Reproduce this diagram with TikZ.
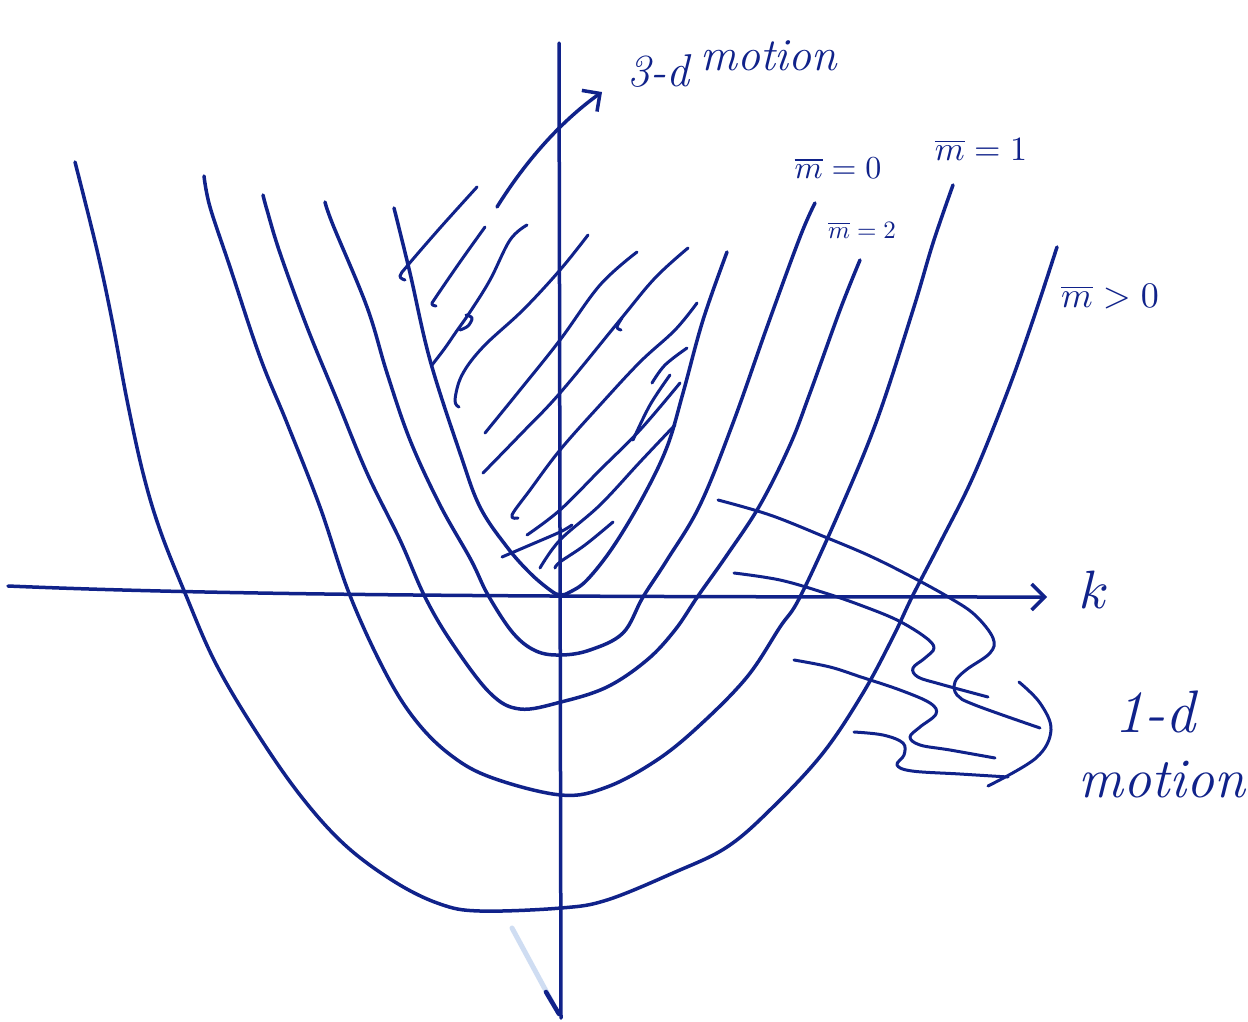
\documentclass[tikz,border=0pt]{standalone}
\usetikzlibrary{arrows.meta}
\definecolor{ink}{RGB}{16,34,138}
\definecolor{smear}{RGB}{120,160,220}
\tikzset{
  pen/.style={draw=ink, line width=3.5pt, line cap=round, line join=round},
  hatch/.style={pen, line width=3pt},
  wave/.style={pen, line width=3pt},
  barb/.style={-{Straight Barb[length=13pt,width=26pt,line width=3.5pt]}},
  lbl/.style={text=ink, inner sep=0pt},
}
\newcommand{\fsz}[1]{\fontsize{#1}{#1}\selectfont}
\begin{document}
\begin{tikzpicture}[x=1pt,y=-1pt]
\useasboundingbox (0,0) rectangle (1248,1021);
\fill[white] (0,0) rectangle (1248,1021);

% ---- axes
\coordinate (yTop) at (559,43);
\coordinate (yBot) at (561,1018);
\draw[pen] (yTop) -- (yBot);
\coordinate (xL) at (8,586);
\coordinate (xR) at (1047,597);
\draw[pen,barb] (xL) .. controls (220,595) and (500,597) .. (xR);
\node[lbl] (k) at (1094,590) {\scalebox{5.4}{$k$}};

% faint smear at the bottom of the vertical axis
\draw[smear, opacity=.35, line width=5pt, line cap=round] (512,928) -- (552,1002);
\draw[pen, line width=4.5pt] (546,992) -- (559,1014);

% ---- curves
\draw[pen] plot[smooth, tension=0.6] coordinates {(394,208) (410,273) (430,360) (460,453) (480,507) (507,547) (530,573) (550,590) (560,595) (570,592) (587,580) (613,547) (643,497) (667,447) (683,393) (703,320) (727,252)};
\draw[pen] plot[smooth, tension=0.6] coordinates {(325,202) (333,225) (367,307) (387,373) (410,440) (440,505) (471,560) (488,595) (513,633) (536,651) (561,655) (590,650) (623,633) (643,597) (667,560) (700,505) (733,423) (767,327) (800,237) (815,203)};
\draw[pen] plot[smooth, tension=0.6] coordinates {(263,195) (267,210) (280,253) (307,327) (337,400) (367,473) (400,540) (425,597) (452,643) (490,693) (520,709) (561,702) (607,687) (647,660) (675,630) (698,596) (727,555) (760,505) (790,445) (810,393) (840,310) (860,260)};
\draw[pen] plot[smooth, tension=0.6] coordinates {(204,176) (210,207) (230,267) (260,357) (287,423) (320,507) (349,593) (383,668) (413,717) (448,753) (490,777) (561,795) (607,787) (657,760) (700,725) (747,677) (780,627) (800,597) (840,510) (877,420) (913,310) (933,243) (953,185)};
\draw[pen] plot[smooth, tension=0.6] coordinates {(75,162) (97,250) (112,320) (127,400) (143,473) (160,530) (185,593) (215,662) (255,730) (300,795) (345,845) (395,882) (440,904) (480,911) (561,908) (607,900) (673,873) (727,847) (773,807) (823,753) (863,693) (893,637) (912,597) (940,543) (973,477) (1007,393) (1033,320) (1057,247)};

% ---- hatching of the 3-d region
\draw[hatch] plot[smooth, tension=0.6] coordinates {(477,187) (440,228) (408,265) (400,276) (405,280)};
\draw[hatch] plot[smooth, tension=0.6] coordinates {(485,227) (460,262) (436,297) (432,304) (436,306)};
\draw[hatch] plot[smooth, tension=0.6] coordinates {(527,225) (510,240) (490,280) (470,312) (456,332) (445,348) (432,365)};
\draw[hatch] plot[smooth, tension=0.6] coordinates {(466,315) (472,318) (468,326) (460,330)};
\draw[hatch] plot[smooth, tension=0.6] coordinates {(588,235) (560,270) (523,310) (483,347) (462,375) (455,400) (459,407)};
\draw[hatch] plot[smooth, tension=0.6] coordinates {(637,252) (600,285) (560,340) (520,390) (485,433)};
\draw[hatch] plot[smooth, tension=0.6] coordinates {(688,248) (655,278) (620,320) (560,393) (520,435) (483,473)};
\draw[hatch] plot[smooth, tension=0.6] coordinates {(622,318) (617,327) (621,330)};
\draw[hatch] plot[smooth, tension=0.6] coordinates {(697,303) (675,330) (640,362) (600,405) (560,450) (530,490) (512,515) (518,518)};
\draw[hatch] plot[smooth, tension=0.6] coordinates {(687,348) (665,365) (652,383)};
\draw[hatch] plot[smooth, tension=0.6] coordinates {(670,375) (650,405) (633,440)};
\draw[hatch] plot[smooth, tension=0.6] coordinates {(680,383) (640,430) (600,470) (560,510) (527,535)};
\draw[hatch] plot[smooth, tension=0.6] coordinates {(675,425) (640,462) (600,505) (560,540) (540,568)};
\draw[hatch] plot[smooth, tension=0.6] coordinates {(613,522) (585,545) (560,562) (555,568)};
\draw[hatch] plot[smooth, tension=0.6] coordinates {(502,557) (530,545) (560,532) (572,525)};

% ---- 3-d motion arrow and label
\coordinate (a3s) at (497,207);
\coordinate (a3t) at (602,92);
\draw[pen,barb] (a3s) .. controls (525,162) and (560,122) .. (a3t);
\node[lbl,font=\fsz{46}\itshape, anchor=base west] (lab3d) at (627,86) {3-d};
\node[lbl,font=\fsz{46}\itshape, anchor=base west] (lab3m) at (700,70) {motion};

% ---- m-bar labels
\node[lbl] (m0a) at (838,168) {\scalebox{3.2}{$\overline{m}=0$}};
\node[lbl] (m1) at (981,150) {\scalebox{3.4}{$\overline{m}=1$}};
\node[lbl] (m2) at (862,230) {\scalebox{2.5}{$\overline{m}=2$}};
\node[lbl] (mgt) at (1110,297) {\scalebox{3.6}{$\overline{m}>0$}};

% ---- 1-d motion wavy pointers
\draw[wave] plot[smooth, tension=0.6] coordinates {(718,500) (770,515) (825,537) (870,556) (912,577) (950,598) (975,615) (993,638) (990,653) (966,670) (955,682) (957,695) (975,705) (1040,728)};
\draw[wave] plot[smooth, tension=0.6] coordinates {(734,573) (780,580) (825,593) (860,605) (897,620) (925,637) (934,648) (925,658) (913,668) (918,677) (940,684) (988,697)};
\draw[wave] plot[smooth, tension=0.6] coordinates {(794,660) (830,667) (861,677) (900,690) (930,703) (936,714) (920,727) (910,737) (920,745) (950,750) (995,758)};
\draw[wave] plot[smooth, tension=0.6] coordinates {(854,732) (883,735) (903,743) (904,755) (897,765) (912,771) (960,774) (1008,777)};
\draw[wave] plot[smooth, tension=0.6] coordinates {(1019,682) (1040,703) (1051,730) (1036,758) (988,786)};

\node[lbl,font=\fsz{60}\itshape] (lab1d) at (1155,712) {1-d};
\node[lbl,font=\fsz{56}\itshape] (labmo) at (1162,780) {motion};
\end{tikzpicture}
\end{document}
